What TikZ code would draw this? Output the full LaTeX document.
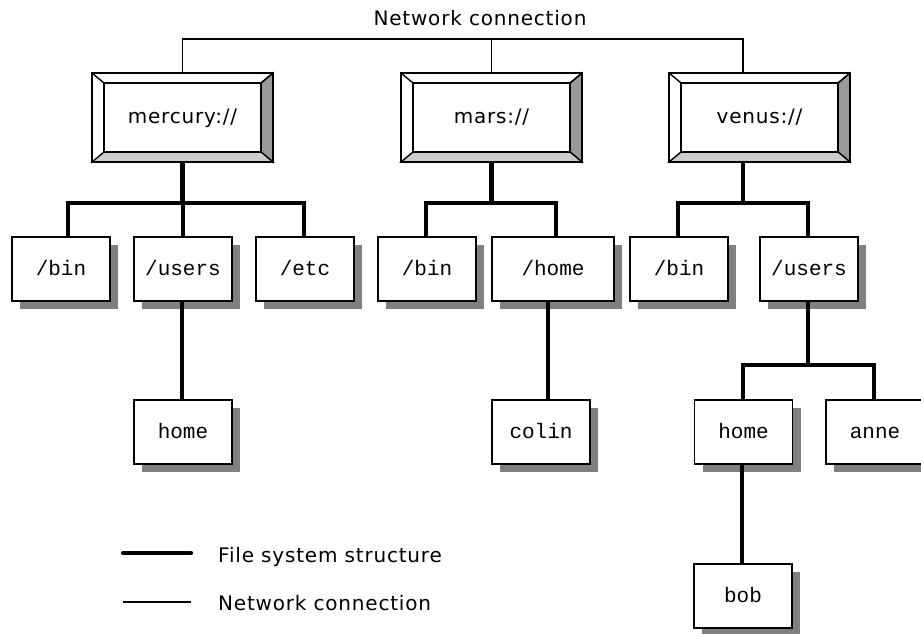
\documentclass[tikz,border=0pt]{standalone}
\usepackage{fontspec}
\setmainfont{DejaVu Sans}[LetterSpace=4]
\newfontfamily\dirfont{Liberation Mono}
\usetikzlibrary{shadows,calc}
\definecolor{bevdark}{HTML}{999999}
\definecolor{bevlight}{HTML}{CCCCCC}
\definecolor{shade}{HTML}{808080}
\newcommand\hostbevel[1]{%
  \filldraw[fill=bevdark, line width=1.4pt, line join=miter] (#1.north east) -- ($(#1.north east)+(-12,10)$) -- ($(#1.south east)+(-12,-10)$) -- (#1.south east) -- cycle;
  \filldraw[fill=bevlight, line width=1.4pt, line join=miter] (#1.south west) -- ($(#1.south west)+(12,-10)$) -- ($(#1.south east)+(-12,-10)$) -- (#1.south east) -- cycle;
  \draw[line width=1.4pt] ($(#1.north west)+(12,10)$) rectangle ($(#1.south east)+(-12,-10)$);
  \draw[line width=1.4pt] (#1.north west) -- ++(12,10);
  \draw[line width=1.4pt] (#1.north east) -- ++(-12,10);
  \draw[line width=2pt] (#1.north west) rectangle (#1.south east);
}
\begin{document}
\begin{tikzpicture}[x=1pt,y=-1pt,
  host/.style={draw, line width=2pt, fill=white, minimum width=181pt, minimum height=89pt,
    inner sep=0pt, outer sep=0pt, text height=14pt, text depth=2pt,
    font=\fontsize{20}{24}\selectfont},
  dirbox/.style={draw, line width=1.8pt, fill=white, minimum width=98pt, minimum height=64pt,
    inner sep=0pt, outer sep=0pt, text height=15pt, text depth=3pt,
    font=\dirfont\fontsize{21}{25}\selectfont,
    drop shadow={shadow xshift=8pt, shadow yshift=-8pt, fill=shade, opacity=1}},
  net/.style={line width=1.7pt, line join=miter},
  fs/.style={line width=4.8pt, line join=miter},
  lbl/.style={font=\fontsize{20}{24}\selectfont, inner sep=0pt}]
\useasboundingbox (0,0) rectangle (921,634);

% title
\node[lbl, anchor=base] (title) at (480,26) {Network connection};

% hosts
\node[host] (mercury) at (182.5,117.5) {mercury://};
\node[host] (mars) at (491.5,117.5) {mars://};
\node[host] (venus) at (759.5,117.5) {venus://};
\hostbevel{mercury}
\hostbevel{mars}
\hostbevel{venus}

% directories
\node[dirbox] (mbin) at (61,269) {/bin};
\node[dirbox] (musers) at (183,269) {/users};
\node[dirbox] (metc) at (305,269) {/etc};
\node[dirbox] (rbin) at (427,269) {/bin};
\node[dirbox, minimum width=122pt] (rhome) at (553,269) {/home};
\node[dirbox] (vbin) at (679,269) {/bin};
\node[dirbox] (vusers) at (809,269) {/users};
\node[dirbox] (mhome) at (183,432) {home};
\node[dirbox] (colin) at (541,432) {colin};
\node[dirbox] (vhome) at (743.5,432) {home};
\node[dirbox] (anne) at (875,432) {anne};
\node[dirbox] (bob) at (743,596) {bob};

% network connection
\coordinate (netrow) at (0,39);
\coordinate (vtop) at ($(venus.north)+(-16.5,0)$);
\draw[net] (mercury.north) -- (mercury.north |- netrow) -- (vtop |- netrow) -- (vtop);
\draw[net] (mars.north) -- (mars.north |- netrow);

% file system structure
\coordinate (brow) at (0,203);
\coordinate (vbot) at ($(venus.south)+(-16.5,0)$);
\draw[fs] (mercury.south) -- (mercury.south |- brow);
\draw[fs] ($(mbin.north)+(7,0)$) -- ($(mbin.north)+(7,-34)$) -| ($(metc.north)+(-1,0)$);
\draw[fs] (musers.north) -- (musers.north |- brow);
\draw[fs] (mars.south) -- (mars.south |- brow);
\draw[fs] ($(rbin.north)+(-1,0)$) -- ($(rbin.north)+(-1,-34)$) -| ($(rhome.north)+(3,0)$);
\draw[fs] (vbot) -- (vbot |- brow);
\draw[fs] ($(vbin.north)+(-1,0)$) -- ($(vbin.north)+(-1,-34)$) -| ($(vusers.north)+(-1,0)$);

\draw[fs] ($(musers.south)+(-1,0)$) -- ($(mhome.north)+(-1,0)$);
\draw[fs] ($(rhome.south)+(-5,0)$) -- ($(colin.north)+(7,0)$);
\draw[fs] ($(vusers.south)+(-1,0)$) -- ($(vusers.south)+(-1,63)$);
\draw[fs] ($(vhome.north)+(-0.5,0)$) -- ($(vhome.north)+(-0.5,-35)$) -| ($(anne.north)+(-1,0)$);
\draw[fs] ($(vhome.south)+(-1.5,0)$) -- ($(bob.north)+(-1,0)$);

% legend
\coordinate (l1a) at (123,553);
\coordinate (l1b) at (191,553);
\coordinate (l2a) at (123,602);
\coordinate (l2b) at (191,602);
\draw[fs, line cap=round, line width=4.3pt] (l1a) -- (l1b);
\draw[net] (l2a) -- (l2b);
\node[lbl, anchor=base west] (lg1) at (218,562) {File system structure};
\node[lbl, anchor=base west] (lg2) at (218,610) {Network connection};
\end{tikzpicture}
\end{document}
